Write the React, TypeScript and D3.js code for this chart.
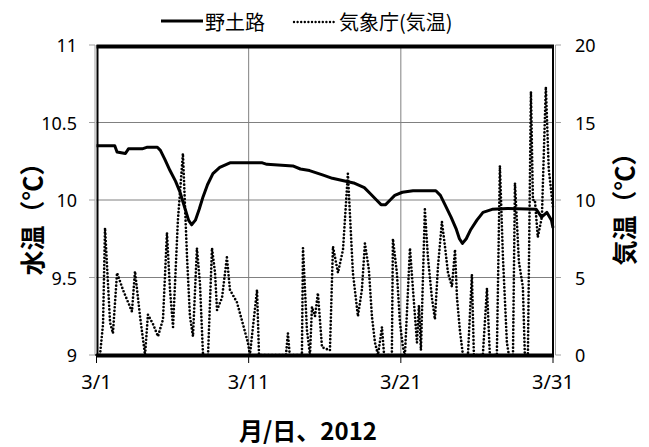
import React from "react";
import * as d3 from "d3";

// x tick labels (day index from 3/1)
const xTickDays = [0, 10, 20, 30];
const xTickLabels = ["3/1", "3/11", "3/21", "3/31"];
const leftTicks = [9, 9.5, 10, 10.5, 11];
const leftTickLabels = ["9", "9.5", "10", "10.5", "11"];
const rightTicks = [0, 5, 10, 15, 20];
const rightTickLabels = ["0", "5", "10", "15", "20"];

// 野土路 water temperature (day offset, °C)
const waterDay = [0, 1.2, 1.35, 1.9, 2.1, 3.0, 3.3, 4.0, 4.2, 4.5, 4.83, 5.2, 5.49, 5.8, 6.05, 6.25, 6.5, 6.75, 7.0, 7.3, 7.65, 8.1, 8.77, 10.9, 11.2, 12.9, 13.4, 14.0, 14.9, 15.5, 16.9, 17.6, 18.0, 18.4, 18.7, 19.0, 19.3, 19.6, 20.1, 20.8, 22.3, 22.6, 22.9, 23.3, 23.65, 23.85, 24.05, 24.3, 24.6, 25.0, 25.4, 26.0, 27.0, 28.9, 29.25, 29.6, 29.9, 30];
const waterTemp = [10.35, 10.35, 10.31, 10.30, 10.33, 10.33, 10.34, 10.34, 10.32, 10.26, 10.19, 10.12, 10.05, 9.95, 9.87, 9.84, 9.87, 9.94, 10.02, 10.1, 10.17, 10.21, 10.24, 10.24, 10.23, 10.22, 10.2, 10.19, 10.16, 10.14, 10.11, 10.08, 10.04, 10.0, 9.97, 9.97, 10.0, 10.03, 10.05, 10.06, 10.06, 10.03, 9.97, 9.89, 9.81, 9.75, 9.72, 9.75, 9.81, 9.87, 9.92, 9.94, 9.945, 9.94, 9.89, 9.92, 9.87, 9.82];

// 気象庁 air temperature (day offset, °C, clipped at 0)
const airDay = [0, 0.23, 0.43, 0.56, 0.89, 1.08, 1.35, 1.74, 2.33, 2.53, 2.86, 3.19, 3.38, 3.71, 4.04, 4.37, 4.63, 4.83, 5.03, 5.35, 5.68, 5.95, 6.14, 6.34, 6.6, 6.8, 7.0, 7.33, 7.59, 7.79, 7.92, 8.25, 8.57, 8.77, 9.23, 9.62, 9.95, 10.08, 10.55, 10.68, 12.45, 12.58, 12.7, 13.5, 13.57, 13.83, 14.03, 14.16, 14.36, 14.55, 14.82, 15.34, 15.54, 15.87, 16.2, 16.52, 16.85, 17.18, 17.44, 17.64, 17.9, 18.1, 18.3, 18.5, 18.76, 18.9, 19.41, 19.48, 19.74, 19.94, 20.14, 20.27, 20.6, 20.8, 21.06, 21.19, 21.32, 21.58, 21.78, 22.04, 22.24, 22.44, 22.7, 22.9, 23.1, 23.36, 23.56, 23.69, 23.88, 24.08, 24.41, 24.67, 24.8, 25.39, 25.66, 25.85, 26.31, 26.51, 26.71, 26.97, 27.1, 27.37, 27.5, 27.76, 28.02, 28.15, 28.35, 28.55, 28.68, 28.81, 29.0, 29.27, 29.53, 29.72, 30];
const airTemp = [0, 0, 2, 8.2, 2.1, 1.4, 5.3, 4.2, 2.8, 5.4, 2.5, 0, 2.6, 2.0, 1.2, 2.3, 7.9, 4.2, 1.8, 8.7, 13.0, 6.3, 2.5, 1.2, 6.9, 4.6, 0, 0, 6.9, 5.3, 2.9, 3.7, 6.3, 4.2, 3.4, 2.0, 0.8, 0, 4.2, 0, 0, 1.4, 0, 0, 6.9, 1.6, 0, 3.1, 2.5, 4.0, 0.5, 0.3, 7.0, 5.3, 6.8, 11.7, 5.3, 2.5, 4.2, 7.2, 5.5, 2.5, 0.8, 0, 1.8, 0, 0, 7.5, 5.3, 2.1, 0.5, 0, 6.9, 4.2, 0.8, 3.2, 0.3, 9.4, 6.3, 3.7, 2.3, 5.7, 8.6, 7.0, 5.3, 4.4, 6.8, 3.7, 1.6, 0, 0, 5.2, 0, 0, 4.3, 0, 0, 12.2, 6.3, 0.8, 0, 0, 11.1, 6, 4.4, 0, 0, 17.0, 10, 10, 7.6, 8.9, 17.3, 12, 9.5];

const FONT = "'Noto Sans', 'Noto Sans CJK JP', sans-serif";
const CJK = "'Noto Sans CJK JP', 'Noto Sans', sans-serif";

export default function App() {
  const x = d3.scaleLinear().domain([0, 30]).range([96.5, 553]);
  const yL = d3.scaleLinear().domain([9, 11]).range([355, 45]);
  const yR = d3.scaleLinear().domain([0, 20]).range([355, 45]);

  const waterLine = d3
    .line<number>()
    .x((_, i) => x(waterDay[i]))
    .y((d) => yL(d));
  const airLine = d3
    .line<number>()
    .x((_, i) => x(airDay[i]))
    .y((d) => yR(d));

  const gridY = [9.5, 10, 10.5];
  const gridX = [10, 20];

  return (
    <div style={{ position: "absolute", left: 0, top: 0 }}>
      <svg width={649} height={447} style={{ display: "block", background: "#fff" }} fontFamily={FONT}>
        {/* gridlines */}
        {gridY.map((v) => (
          <line key={"gy" + v} x1={x(0)} x2={x(30)} y1={yL(v)} y2={yL(v)} stroke="#808080" strokeWidth={1} />
        ))}
        {gridX.map((d) => (
          <line key={"gx" + d} x1={x(d)} x2={x(d)} y1={yL(11)} y2={yL(9)} stroke="#808080" strokeWidth={1} />
        ))}
        {/* axis lines (gray) */}
        <line x1={95} x2={95} y1={yL(11)} y2={yL(9)} stroke="#a0a0a0" strokeWidth={1} />
        <line x1={555.5} x2={555.5} y1={yL(11)} y2={yL(9)} stroke="#a0a0a0" strokeWidth={1} />
        {/* left ticks */}
        {leftTicks.map((v, i) => (
          <g key={"lt" + v}>
            <line x1={89} x2={95} y1={yL(v)} y2={yL(v)} stroke="#a0a0a0" strokeWidth={1} />
            <text x={77} y={yL(v)} textAnchor="end" dominantBaseline="central" fontSize={18} fill="#000">
              {leftTickLabels[i]}
            </text>
          </g>
        ))}
        {/* right ticks */}
        {rightTicks.map((v, i) => (
          <g key={"rt" + v}>
            <line x1={555.5} x2={561} y1={yR(v)} y2={yR(v)} stroke="#a0a0a0" strokeWidth={1} />
            <text x={575} y={yR(v)} textAnchor="start" dominantBaseline="central" fontSize={18} fill="#000">
              {rightTickLabels[i]}
            </text>
          </g>
        ))}
        {/* bottom ticks */}
        {xTickDays.map((d, i) => (
          <g key={"xt" + d}>
            <line x1={x(d)} x2={x(d)} y1={355} y2={363} stroke="#000" strokeWidth={1} />
            <text x={x(d)} y={381} textAnchor="middle" dominantBaseline="central" fontSize={20} fill="#000">
              {xTickLabels[i]}
            </text>
          </g>
        ))}
        {/* frame */}
        <line x1={97.5} x2={97.5} y1={45} y2={357} stroke="#000" strokeWidth={2} />
        <line x1={553} x2={553} y1={45} y2={357} stroke="#000" strokeWidth={2} />
        <line x1={96.5} x2={554} y1={46.5} y2={46.5} stroke="#000" strokeWidth={4} />
        <line x1={96.5} x2={554} y1={355.5} y2={355.5} stroke="#000" strokeWidth={4} />

        {/* air temperature (dotted) */}
        <path
          d={airLine(airTemp) || ""}
          fill="none"
          stroke="#000"
          strokeWidth={2.7}
          strokeDasharray="0 3.6"
          strokeLinecap="round"
          strokeLinejoin="round"
        />
        {/* water temperature */}
        <path d={waterLine(waterTemp) || ""} fill="none" stroke="#000" strokeWidth={3} strokeLinejoin="round" />

        {/* legend */}
        <line x1={161} x2={203} y1={21} y2={21} stroke="#000" strokeWidth={3} />
        <text x={205} y={21} dominantBaseline="central" fontSize={20} fontFamily={CJK} fill="#000">野土路</text>
        <line x1={294} x2={334} y1={22} y2={22} stroke="#000" strokeWidth={2.4} strokeDasharray="0 3.6" strokeLinecap="round" />
        <text x={339} y={21} dominantBaseline="central" fontSize={20} fontFamily={CJK} fill="#000">気象庁(気温)</text>

        {/* axis titles */}
        <text transform="translate(31,213) rotate(-90)" textAnchor="middle" dominantBaseline="central" fontSize={25} fontWeight="bold" fontFamily={CJK} fill="#000">
          水温（℃）
        </text>
        <text transform="translate(623,203) rotate(-90)" textAnchor="middle" dominantBaseline="central" fontSize={25} fontWeight="bold" fontFamily={CJK} fill="#000">
          気温（℃）
        </text>
        <text x={308} y={429} textAnchor="middle" dominantBaseline="central" fontSize={24} fontWeight="bold" fontFamily={CJK} fill="#000">
          月/日、2012
        </text>
      </svg>
    </div>
  );
}
